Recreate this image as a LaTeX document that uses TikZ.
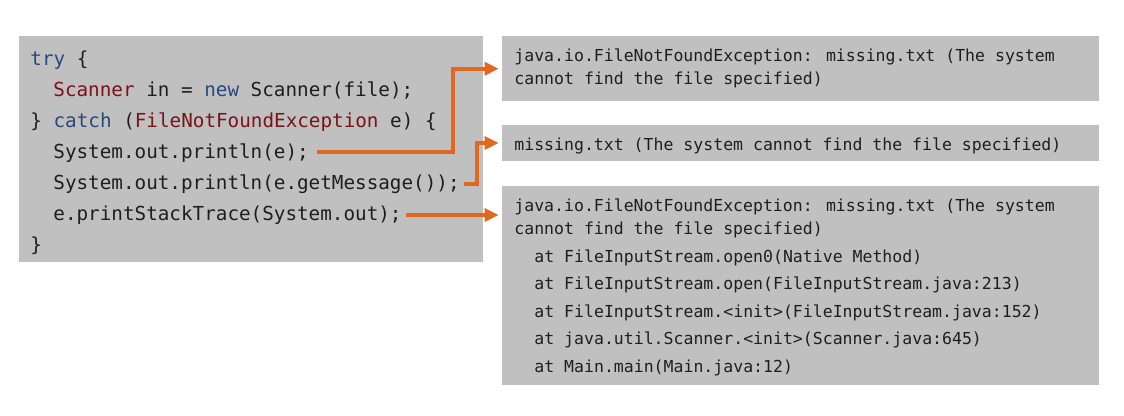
\documentclass[tikz,border=0pt]{standalone}
\usepackage{fontspec}
\newfontfamily\codefont{DejaVu Sans Mono}
\usetikzlibrary{arrows.meta}
\definecolor{boxgray}{RGB}{192,192,192}
\definecolor{kwblue}{RGB}{40,72,125}
\definecolor{tyred}{RGB}{122,18,24}
\definecolor{arrorange}{RGB}{226,104,34}
\definecolor{ink}{RGB}{30,30,30}
\begin{document}
\begin{tikzpicture}[x=0.5pt,y=-0.5pt,
  panel/.style={fill=boxgray,draw=none,inner sep=0pt,rectangle},
  code/.style={anchor=base west,inner sep=0pt,text=ink,font=\codefont\fontsize{9.64pt}{12pt}\selectfont},
  outtxt/.style={anchor=base west,inner sep=0pt,text=ink,font=\codefont\fontsize{8.26pt}{10pt}\selectfont},
  kw/.style={},
  arr/.style={draw=arrorange,line width=2pt,-{Triangle[length=7pt,width=6.5pt]},shorten >=1.5pt}]
\useasboundingbox (0,0) rectangle (1124,416);
% panels
\node[panel,minimum width=232pt,minimum height=113pt] (src) at (251,149) {};
\node[panel,minimum width=298.5pt,minimum height=32.75pt] (o1) at (800.5,68.75) {};
\node[panel,minimum width=298.5pt,minimum height=18pt] (o2) at (800.5,143) {};
\node[panel,minimum width=298.5pt,minimum height=99.5pt] (o3) at (800.5,285.5) {};
% code lines
\node[code] (l1) at (30,66) {\textcolor{kwblue}{try} \{};
\node[code] (l2) at (53,97) {\textcolor{tyred}{Scanner} in = \textcolor{kwblue}{new} Scanner(file);};
\node[code] (l3) at (30,128) {\} \textcolor{kwblue}{catch} (\textcolor{tyred}{FileNotFoundException} e) \{};
\node[code] (l4) at (53,159) {System.out.println(e);};
\node[code] (l5) at (53,190) {System.out.println(e.getMessage());};
\node[code] (l6) at (53,221) {e.printStackTrace(System.out);};
\node[code] (l7) at (30,252) {\}};
% output 1
\node[outtxt] (a1) at (514,62) {java.io.FileNotFoundException: missing.txt (The system};
\node[outtxt] (a2) at (514,85) {cannot find the file specified)};
% output 2
\node[outtxt] (b1) at (514,150.5) {missing.txt (The system cannot find the file specified)};
% output 3
\node[outtxt] (c1) at (514,212) {java.io.FileNotFoundException: missing.txt (The system};
\node[outtxt] (c2) at (514,235) {cannot find the file specified)};
\node[outtxt] (c3) at (534,263) {at FileInputStream.open0(Native Method)};
\node[outtxt] (c4) at (534,290) {at FileInputStream.open(FileInputStream.java:213)};
\node[outtxt] (c5) at (534,317.5) {at FileInputStream.<init>(FileInputStream.java:152)};
\node[outtxt] (c6) at (534,345) {at java.util.Scanner.<init>(Scanner.java:645)};
\node[outtxt] (c7) at (534,372.5) {at Main.main(Main.java:12)};
% connectors
\coordinate (s1) at ([shift={(8,-7)}]l4.base east);
\coordinate (s2) at ([shift={(4,-6)}]l5.base east);
\coordinate (s3) at ([shift={(4,-6)}]l6.base east);
\coordinate (k1) at (453,0);
\coordinate (k2) at (477,0);
\draw[arr] (s1) -| (k1 |- o1.west) -- (o1.west);
\draw[arr] (s2) -| (k2 |- o2.west) -- (o2.west);
\draw[arr] (s3) -- (s3 -| o3.west);
\end{tikzpicture}
\end{document}
